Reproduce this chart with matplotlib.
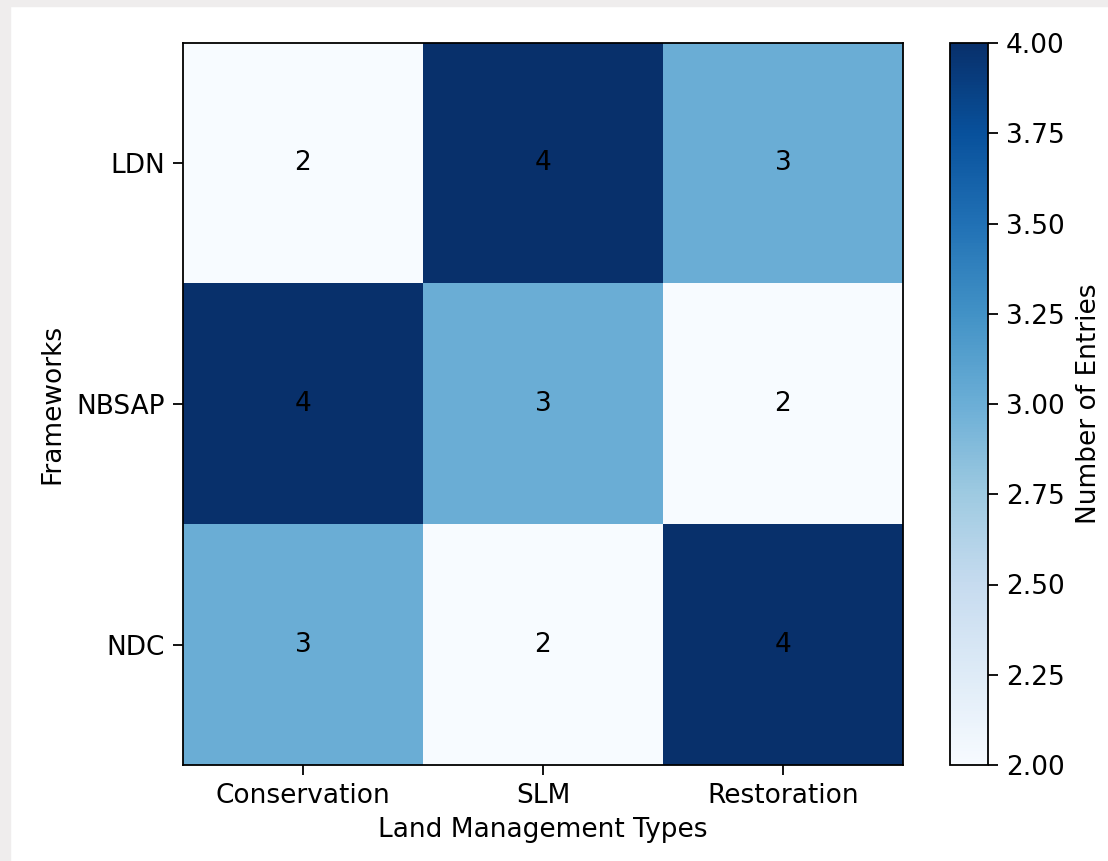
import numpy as np
import matplotlib.pyplot as plt
from matplotlib.patches import Rectangle

# 框架與土地管理類型
frameworks = ["LDN", "NBSAP", "NDC"]
land_types = ["Conservation", "SLM", "Restoration"]
entries = np.array([
    [2, 4, 3],
    [4, 3, 2],
    [3, 2, 4],
])

plt.rcParams['font.size'] = 19

fig = plt.figure(figsize=(11.08, 8.61), dpi=100)

# 外框的灰色邊
fig.patches.append(Rectangle((0, 0), 10 / 1108, 1, transform=fig.transFigure,
                             color="#efeded", zorder=0))
fig.patches.append(Rectangle((0, 1 - 6 / 861), 1, 6 / 861, transform=fig.transFigure,
                             color="#efeded", zorder=0))

ax = fig.add_axes([183 / 1108, 1 - 765 / 861, 720 / 1108, 722 / 861])
cax = fig.add_axes([950 / 1108, 1 - 765 / 861, 38 / 1108, 722 / 861])

im = ax.imshow(entries, cmap='Blues', aspect='auto')

for i in range(len(frameworks)):
    for j in range(len(land_types)):
        ax.text(j, i, str(entries[i, j]), ha='center', va='center', color='black')

ax.set_xticks(range(len(land_types)))
ax.set_xticklabels(land_types)
ax.set_yticks(range(len(frameworks)))
ax.set_yticklabels(frameworks)
ax.set_xlabel('Land Management Types', labelpad=6)
ax.set_ylabel('Frameworks', labelpad=8)
ax.tick_params(length=7, width=1.3, pad=6)
for s in ax.spines.values():
    s.set_linewidth(1.3)

cb = fig.colorbar(im, cax=cax)
cb.set_label('Number of Entries', labelpad=8)
cb.set_ticks(np.arange(2.0, 4.01, 0.25))
cb.ax.yaxis.set_major_formatter(plt.FormatStrFormatter('%.2f'))
cb.ax.tick_params(length=7, width=1.3, pad=6)
cb.outline.set_linewidth(1.3)

fig.savefig('out.png')
